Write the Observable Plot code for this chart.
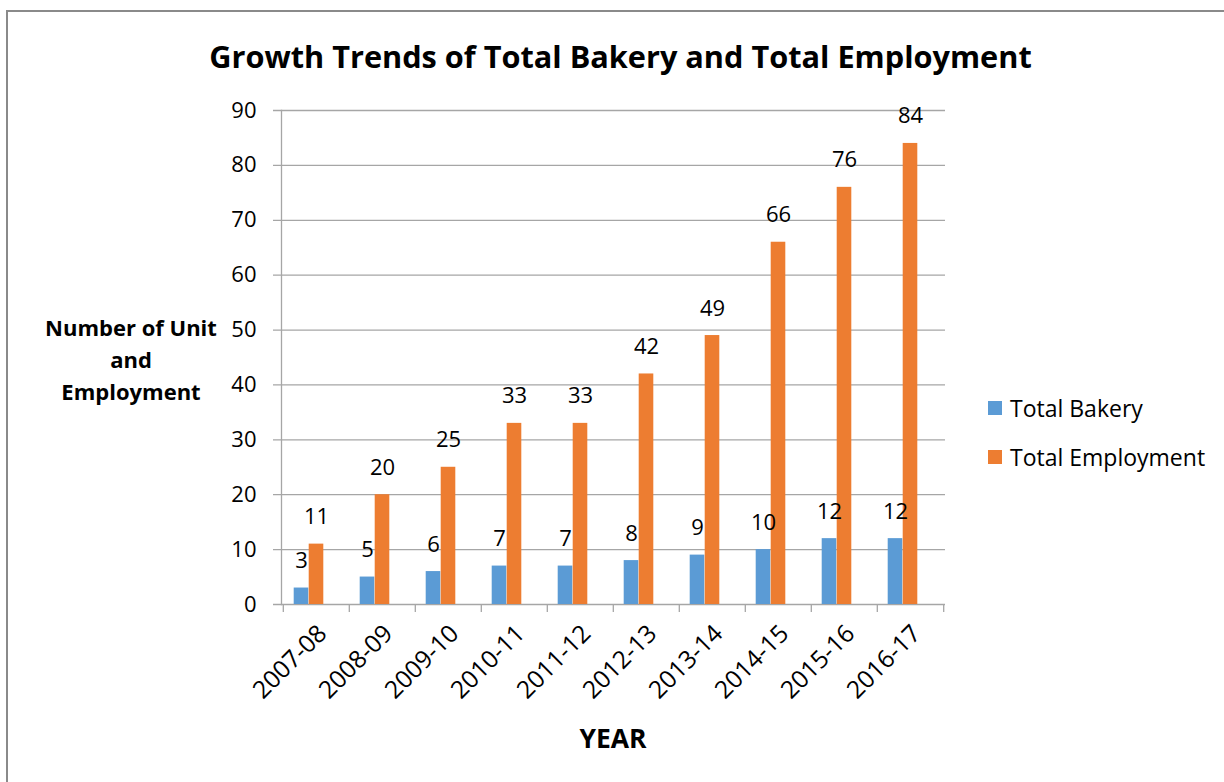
<!DOCTYPE html>
<html>
<head>
<meta charset="utf-8">
<script src="https://cdn.jsdelivr.net/npm/d3@7"></script>
<script src="https://cdn.jsdelivr.net/npm/@observablehq/plot@0.6"></script>
<style>
  html, body { margin: 0; padding: 0; background: #fff; overflow: hidden; }
  #wrap { position: relative; width: 1224px; height: 782px; font-family: "Open Sans", Lato, sans-serif; color: #000; }
  #border { position: absolute; left: 6px; top: 10px; width: 1240px; height: 800px; border: 2px solid #8a8a8a; box-sizing: border-box; }
  #title { position: absolute; left: 0; width: 1241px; top: 36px; text-align: center; font-weight: bold; font-size: 30.7px; line-height: 40px; }
  #ylabel { position: absolute; left: 31px; width: 200px; top: 311px; text-align: center; font-weight: bold; font-size: 22px; line-height: 32px; }
  #xlabel { position: absolute; left: 513px; width: 200px; top: 719px; text-align: center; font-weight: bold; font-size: 26.5px; line-height: 38px; }
  #legend { position: absolute; left: 988px; top: 393px; font-size: 23px; }
  .item { display: flex; align-items: center; height: 30px; margin-bottom: 19px; }
  .sw { width: 14px; height: 14px; margin-right: 8px; }
  #chart { position: absolute; left: 0; top: 0; }
</style>
</head>
<body>
<div id="wrap">
  <div id="border"></div>
  <div id="chart"></div>
  <div id="title">Growth Trends of Total Bakery and Total Employment</div>
  <div id="ylabel">Number of Unit<br>and<br>Employment</div>
  <div id="xlabel">YEAR</div>
  <div id="legend"></div>
</div>
<script>
const years = ["2007-08","2008-09","2009-10","2010-11","2011-12","2012-13","2013-14","2014-15","2015-16","2016-17"];
const totalBakery = [3,5,6,7,7,8,9,10,12,12];
const totalEmployment = [11,20,25,33,33,42,49,66,76,84];
const seriesNames = ["Total Bakery","Total Employment"];
const seriesColors = ["#5B9BD5","#ED7D31"];
const yTicks = [0,10,20,30,40,50,60,70,80,90];

const rows = years.map((y, i) => ({year: y, bakery: totalBakery[i], employment: totalEmployment[i]}));
const gridColor = "#a6a6a6";
const half = 33.2;

const chart = Plot.plot({
  width: 1224,
  height: 782,
  marginLeft: 281,
  marginRight: 279,
  marginTop: 110,
  marginBottom: 178,
  x: {domain: years, padding: 0, label: null, axis: null},
  y: {domain: [0, 90], label: null},
  style: {fontFamily: "'Open Sans', Lato, sans-serif", fontSize: "22px", color: "#000", background: "transparent", overflow: "visible"},
  marks: [
    Plot.ruleY(yTicks, {y: d => d, stroke: gridColor, strokeWidth: 1.3, insetLeft: -8}),
    Plot.frame({anchor: "left", stroke: gridColor, strokeWidth: 1.3}),
    Plot.ruleX(years, {x: d => d, y1: 0, y2: 0, dx: -half, insetBottom: -8, stroke: gridColor, strokeWidth: 1.3}),
    Plot.ruleX([years[years.length - 1]], {x: d => d, y1: 0, y2: 0, dx: half, insetBottom: -8, stroke: gridColor, strokeWidth: 1.3}),
    Plot.barY(rows, {x: "year", y: "bakery", fill: seriesColors[0], insetLeft: 10.7, insetRight: 40.7}),
    Plot.barY(rows, {x: "year", y: "employment", fill: seriesColors[1], insetLeft: 25.7, insetRight: 25.7}),
    Plot.text(rows, {x: "year", y: "bakery", text: d => String(d.bakery), dx: -15, dy: -27, fontSize: 22, fill: "#000"}),
    Plot.text(rows, {x: "year", y: "employment", text: d => String(d.employment), dx: 0, dy: -27, fontSize: 22, fill: "#000"}),
    Plot.axisY({ticks: yTicks, tickSize: 0, tickPadding: 25, fontSize: 22, label: null, tickFormat: d => String(d)}),
    Plot.text(years, {x: d => d, frameAnchor: "bottom", rotate: -45, textAnchor: "end", lineAnchor: "middle", dx: 6, dy: 25, fontSize: 24.5, fill: "#000"})
  ]
});
document.getElementById("chart").appendChild(chart);

const legend = document.getElementById("legend");
seriesNames.forEach((name, i) => {
  const item = document.createElement("div");
  item.className = "item";
  const sw = document.createElement("div");
  sw.className = "sw";
  sw.style.background = seriesColors[i];
  const label = document.createElement("span");
  label.textContent = name;
  item.appendChild(sw);
  item.appendChild(label);
  legend.appendChild(item);
});
</script>
</body>
</html>
